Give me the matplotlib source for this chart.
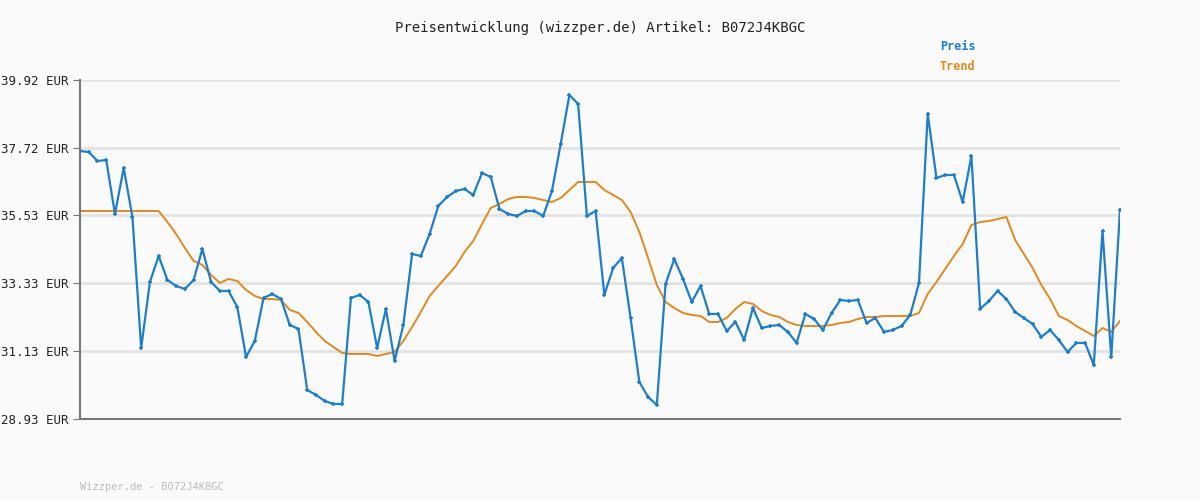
import matplotlib
matplotlib.use('Agg')
import matplotlib.pyplot as plt
import numpy as np

# values (pixel rows converted to EUR below)
price_px = [151, 152, 161, 160, 214, 168, 217, 348, 282, 256, 280, 286, 289, 280, 249, 282, 291, 291, 307, 357,
            341, 298, 294, 299, 325, 329, 390, 395, 401, 404, 404, 298, 295, 302, 348, 309, 361, 325, 254, 256,
            234, 206, 197, 191, 189, 195, 173, 177, 209, 214, 216, 211, 211, 216, 191, 144, 95, 104, 216, 211,
            295, 268, 258, 318, 382, 397, 405, 284, 259, 279, 302, 286, 314, 314, 331, 322, 340, 308, 328, 326,
            325, 332, 343, 314, 319, 330, 313, 300, 301, 300, 323, 318, 332, 330, 326, 315, 283, 114, 178, 175,
            175, 202, 156, 309, 301, 291, 299, 312, 318, 324, 337, 330, 340, 352, 343, 343, 365, 231, 357, 210]
trend_px = [211] * 10 + [222, 234, 248, 261, 265, 275, 283, 279, 281, 290, 296, 299, 299, 300, 310, 313, 322, 332,
            341, 347, 353, 354, 354, 354, 356, 354, 352, 341, 327, 312, 296, 286, 276, 266, 252, 241, 224, 208,
            204, 199, 197, 197, 198, 200, 202, 198, 190, 182, 182, 182, 190, 195, 200, 212, 232, 258, 285, 302,
            308, 313, 315, 316, 322, 322, 318, 309, 302, 304, 311, 315, 317, 322, 325, 326, 326, 326, 325, 323,
            322, 319, 317, 317, 316, 316, 316, 316, 313, 294, 282, 269, 256, 244, 225, 222, 221, 219, 217, 240,
            254, 268, 285, 299, 316, 320, 326, 331, 336, 328, 332, 321]
yticks = [28.93, 31.13, 33.33, 35.53, 37.72, 39.92]

def to_eur(p):
    return 39.92 - (np.array(p) - 80) / 30.85

price = to_eur(price_px)
trend = to_eur(trend_px)
x = np.arange(len(price))

mono = 'DejaVu Sans Mono'
fig = plt.figure(figsize=(12, 5), dpi=100, facecolor='#fafafa')
ax = fig.add_axes([80/1200, 1 - 419/500, 1040/1200, 339/500], facecolor='#fafafa')

ax.plot(x, trend, color='#e08a1e', lw=1.4, zorder=2)
ax.plot(x, price, color='#1a7fcf', lw=1.6, marker='+', ms=3.5, mew=1.2, zorder=3)

ax.set_xlim(0, len(x) - 1)
ax.set_ylim(28.93, 39.92)
ax.set_yticks(yticks)
ax.set_yticklabels(['%.2f EUR' % v for v in yticks], fontsize=9, family=mono, color='#222222')
ax.set_xticks([])
ax.grid(axis='y', color='#e3e3e3', lw=2)
ax.set_axisbelow(True)
for s in ['top', 'right']:
    ax.spines[s].set_visible(False)
ax.spines['left'].set_color('#777777')
ax.spines['bottom'].set_color('#777777')
ax.spines['left'].set_linewidth(1.5)
ax.spines['bottom'].set_linewidth(1.5)
ax.tick_params(axis='y', length=5, color='#777777')

fig.text(0.5, 1 - 28/500, 'Preisentwicklung (wizzper.de) Artikel: B072J4KBGC', ha='center', va='center',
         fontsize=10, family=mono, color='#222222')
fig.text(940/1200, 1 - 47/500, 'Preis', fontsize=8.5, family=mono, color='#1a7fcf', weight='bold', va='center')
fig.text(940/1200, 1 - 67/500, 'Trend', fontsize=8.5, family=mono, color='#e08a1e', weight='bold', va='center')
fig.text(80/1200, 1 - 487/500, 'Wizzper.de - B072J4KBGC', fontsize=7.5, family=mono, color='#bbbbbb', va='center')

plt.savefig('out.png', dpi=100, facecolor='#fafafa')
